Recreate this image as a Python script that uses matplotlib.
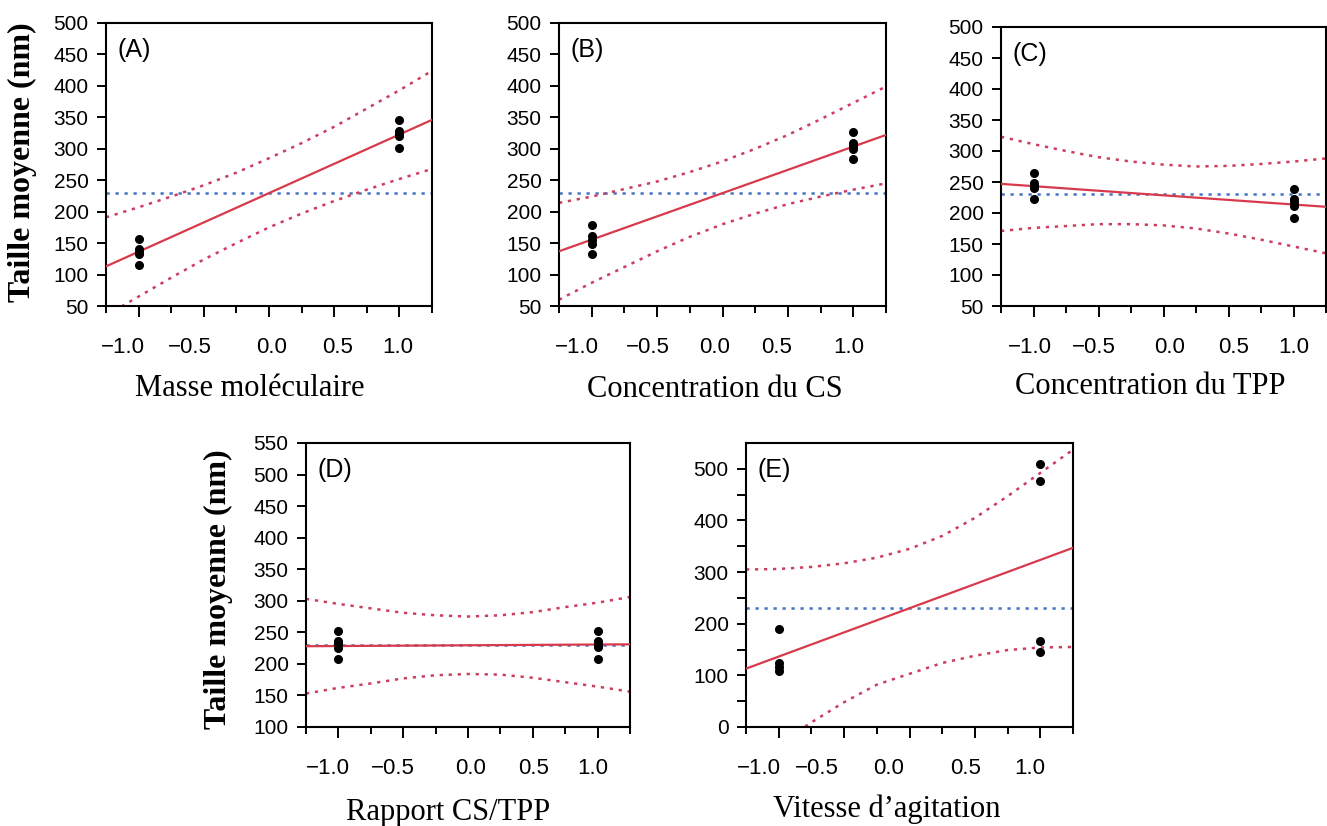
import matplotlib
matplotlib.use("Agg")
import matplotlib.pyplot as plt
from matplotlib.transforms import ScaledTranslation

# ---------------- data ----------------
x_levels = [-1.0, 1.0]
mean_size = 230

A_low = [157, 141, 136, 132, 115]
A_high = [346, 329, 324, 320, 301]
B_low = [179, 161, 155, 149, 133]
B_high = [326, 309, 304, 300, 283]
C_low = [265, 249, 244, 241, 223]
C_high = [238, 222, 217, 211, 192]
D_low = [252, 236, 231, 225, 207]
D_high = [252, 236, 231, 226, 207]
E_low = [189, 123, 117, 108]
E_high = [510, 476, 167, 145]

fit_x = [-1.25, 1.25]
A_fit = [113, 346]
B_fit = [137, 322]
C_fit = [247, 210]
D_fit = [228, 231]
E_fit = [113, 347]

band_x = [-1.25, -1.0, -0.75, -0.5, -0.25, 0.0, 0.25, 0.5, 0.75, 1.0, 1.25]
A_upper = [191, 207, 224, 242, 262, 285, 309, 335, 364, 393, 424]
A_lower = [35, 65, 95, 124, 150, 175, 197, 217, 235, 252, 268]
B_upper = [214, 224, 236, 248, 263, 280, 300, 322, 347, 373, 399]
B_lower = [60, 87, 112, 137, 160, 180, 197, 212, 224, 235, 245]
C_upper = [323, 311, 300, 290, 283, 278, 275, 276, 279, 283, 288]
C_lower = [171, 176, 179, 182, 182, 180, 175, 167, 157, 146, 135]
D_upper = [303, 295, 288, 281, 277, 275, 277, 282, 290, 297, 306]
D_lower = [153, 162, 169, 177, 182, 184, 183, 178, 171, 164, 156]
E_upper = [305, 306, 310, 317, 328, 345, 370, 405, 447, 492, 537]
E_lower = [-79, -33, 9, 48, 82, 103, 124, 138, 149, 154, 155]

panel_tags = ["(A)", "(B)", "(C)", "(D)", "(E)"]
x_titles = ["Masse moléculaire", "Concentration du CS", "Concentration du TPP",
            "Rapport CS/TPP", "Vitesse d\u2019agitation"]
y_title = "Taille moyenne (nm)"
xtick_vals = [-1.0, -0.5, 0.0, 0.5, 1.0]
xtick_labels = ["\u22121.0", "\u22120.5", "0.0", "0.5", "1.0"]

# ---------------- layout / style ----------------
W, H = 1327, 826
fig = plt.figure(figsize=(W / 100, H / 100), dpi=100)

def rect(l, r, t, b):
    return [l / W, 1 - b / H, (r - l) / W, (b - t) / H]

rects = [rect(106, 432, 23, 306), rect(559, 886, 23, 306), rect(1001, 1326, 27, 306),
         rect(306, 630, 443, 727), rect(746, 1073, 443, 727)]
ylims = [(50, 500), (50, 500), (50, 500), (100, 550), (0, 550)]
# horizontal pixel offsets of the x tick labels (as in the reference)
lab_off = [(-16, -14, 3, 3, -2), (-15, -9, -8, -11, -5), (-4, -5, 6, 5, 0),
           (-10, -10, 3, 1, -5), (-20, -27, -21, -9, -11)]
xlabel_pos = [(0.442, -0.29), (0.476, -0.295), (0.460, -0.29), (0.438, -0.30), (0.43, -0.29)]

SANS = "Liberation Sans"
SERIF = "Liberation Serif"
RED = "#d83a4c"
BAND = "#cc3d5e"
BLUE = "#4672c4"

lows = [A_low, B_low, C_low, D_low, E_low]
highs = [A_high, B_high, C_high, D_high, E_high]
fits = [A_fit, B_fit, C_fit, D_fit, E_fit]
uppers = [A_upper, B_upper, C_upper, D_upper, E_upper]
lowers = [A_lower, B_lower, C_lower, D_lower, E_lower]

for i in range(5):
    ax = fig.add_axes(rects[i])
    ax.set_xlim(-1.25, 1.25)
    ax.set_ylim(*ylims[i])

    ax.axhline(mean_size, color=BLUE, lw=1.8, dashes=(1.3, 2.3), zorder=2)
    ax.plot(band_x, uppers[i], color=BAND, lw=1.8, dashes=(1.3, 2.3), zorder=2)
    ax.plot(band_x, lowers[i], color=BAND, lw=1.8, dashes=(1.3, 2.3), zorder=2)
    ax.plot(fit_x, fits[i], color=RED, lw=1.6, zorder=3)
    ax.plot([x_levels[0]] * len(lows[i]), lows[i], "o", color="black", ms=5.5, zorder=4)
    ax.plot([x_levels[1]] * len(highs[i]), highs[i], "o", color="black", ms=5.5, zorder=4)

    ax.text(0.035, 0.905, panel_tags[i], transform=ax.transAxes, fontsize=18,
            family=SANS, ha="left", va="center")

    # x axis ticks
    ax.set_xticks(xtick_vals)
    ax.set_xticklabels(xtick_labels, family=SANS, fontsize=16)
    ax.set_xticks([-1.25, -0.75, -0.25, 0.25, 0.75, 1.25], minor=True)
    ax.tick_params(axis="x", which="major", direction="out", length=8, width=1.4, pad=14)
    ax.tick_params(axis="x", which="minor", direction="out", length=5, width=1.4)

    # y axis ticks
    lo, hi = ylims[i]
    if i == 4:
        ax.set_yticks(list(range(0, 501, 100)))
        ax.set_yticks(list(range(50, 451, 100)), minor=True)
        ax.tick_params(axis="y", which="minor", direction="out", length=6.5, width=1.4)
    else:
        ax.set_yticks(list(range(lo, hi + 1, 50)))
    for lab in ax.get_yticklabels():
        lab.set_family(SANS)
        lab.set_fontsize(15)
    ax.tick_params(axis="y", which="major", direction="out", length=6.5, width=1.4, pad=6)

    for s in ax.spines.values():
        s.set_linewidth(1.5)

    ax.set_xlabel(x_titles[i], family=SERIF, fontsize=22)
    ax.xaxis.set_label_coords(*xlabel_pos[i])
    ax.xaxis.label.set_va("center")

    if i in (0, 3):
        ax.set_ylabel(y_title, family=SERIF, fontsize=23, fontweight="bold")
        if i == 0:
            ax.yaxis.set_label_coords(-0.255, 0.509)
        else:
            ax.yaxis.set_label_coords(-0.269, 0.486)
        ax.yaxis.label.set_va("center")

    for t, dx in zip(ax.xaxis.get_major_ticks(), lab_off[i]):
        t.label1.set_transform(t.label1.get_transform() +
                               ScaledTranslation(dx / 100, 0, fig.dpi_scale_trans))

fig.savefig("out.png", dpi=100)
